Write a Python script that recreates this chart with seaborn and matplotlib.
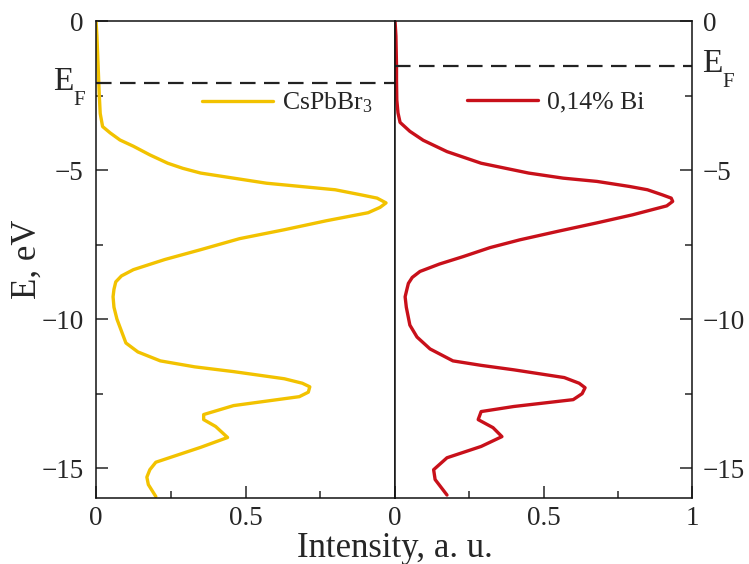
import matplotlib
matplotlib.use("Agg")
import matplotlib.pyplot as plt
import seaborn as sns
import pandas as pd
from matplotlib.ticker import MultipleLocator, FixedLocator

# Density of states: energy (eV) vs. normalised intensity
energy_cspbbr3 = [0, -0.5, -1.0, -1.5, -2.0, -2.5, -3.1, -3.54, -3.75, -3.99, -4.2, -4.49,
                  -4.77, -4.94, -5.1, -5.27, -5.44, -5.55, -5.66, -5.83, -5.94, -6.1, -6.25,
                  -6.43, -6.7, -7.0, -7.3, -7.67, -8.0, -8.34, -8.55, -8.75, -9.0, -9.25,
                  -9.6, -10.0, -10.4, -10.8, -11.1, -11.4, -11.6, -11.76, -12.0, -12.15,
                  -12.27, -12.45, -12.6, -12.9, -13.2, -13.37, -13.6, -13.97, -14.3, -14.8,
                  -15.05, -15.3, -15.55, -15.95]
intensity_cspbbr3 = [0.0, 0.003, 0.005, 0.007, 0.009, 0.011, 0.014, 0.022, 0.047, 0.08,
                     0.125, 0.18, 0.24, 0.29, 0.35, 0.46, 0.57, 0.685, 0.80, 0.886, 0.94,
                     0.97, 0.95, 0.91, 0.77, 0.63, 0.48, 0.35, 0.23, 0.125, 0.085, 0.066,
                     0.06, 0.057, 0.06, 0.07, 0.085, 0.10, 0.14, 0.215, 0.33, 0.46, 0.63,
                     0.69, 0.715, 0.71, 0.68, 0.46, 0.36, 0.36, 0.40, 0.44, 0.35, 0.20,
                     0.18, 0.17, 0.175, 0.20]

energy_bi = [0, -0.5, -1.0, -1.5, -2.0, -2.65, -3.08, -3.4, -3.7, -4.0, -4.38, -4.77, -5.1,
             -5.27, -5.38, -5.55, -5.66, -5.83, -5.94, -6.05, -6.2, -6.5, -6.77, -7.05,
             -7.34, -7.6, -7.9, -8.15, -8.4, -8.6, -8.8, -9.0, -9.25, -9.6, -9.9, -10.2,
             -10.6, -11.0, -11.4, -11.55, -11.7, -11.96, -12.15, -12.3, -12.5, -12.7,
             -12.93, -13.1, -13.37, -13.64, -13.94, -14.27, -14.65, -15.05, -15.38, -15.9]
intensity_bi = [0.0, 0.003, 0.004, 0.005, 0.005, 0.006, 0.01, 0.017, 0.05, 0.095, 0.175,
                0.29, 0.45, 0.566, 0.68, 0.79, 0.85, 0.90, 0.93, 0.935, 0.915, 0.80, 0.68,
                0.55, 0.42, 0.32, 0.23, 0.15, 0.084, 0.058, 0.045, 0.04, 0.034, 0.038,
                0.044, 0.05, 0.074, 0.118, 0.195, 0.29, 0.40, 0.57, 0.62, 0.64, 0.63, 0.60,
                0.40, 0.29, 0.28, 0.33, 0.36, 0.29, 0.175, 0.13, 0.135, 0.175]

fermi_levels = [-2.07, -1.5]
series_labels = ["CsPbBr$_3$", "0,14% Bi"]
series_colors = ["#F2C200", "#C8101A"]

sns.set_style("ticks")
plt.rcParams["font.family"] = ["Liberation Serif", "DejaVu Serif"]
plt.rcParams["mathtext.fontset"] = "custom"
plt.rcParams["mathtext.rm"] = "Liberation Serif"
plt.rcParams["mathtext.it"] = "Liberation Serif:italic"
plt.rcParams["axes.unicode_minus"] = True

W, H = 749, 564
fig = plt.figure(figsize=(W / 100, H / 100), dpi=100)
ax_l = fig.add_axes([0.1282, 0.117, 0.3992, 0.8457])
ax_r = fig.add_axes([0.5274, 0.117, 0.3965, 0.8457])

frames = [
    pd.DataFrame({"E": energy_cspbbr3, "I": intensity_cspbbr3}),
    pd.DataFrame({"E": energy_bi, "I": intensity_bi}),
]

for ax, df, lab, col, ef in zip([ax_l, ax_r], frames, series_labels, series_colors, fermi_levels):
    sns.lineplot(data=df, x="I", y="E", orient="y", sort=False, estimator=None,
                 color=col, lw=2.4, label=lab, ax=ax,
                 solid_joinstyle="round", solid_capstyle="round")
    ax.axhline(ef, color="#222222", lw=1.6, linestyle=(0, (7, 3.8)))
    ax.set_xlim(0, 1)
    ax.set_ylim(-16, 0)
    ax.set_xlabel("")
    ax.set_ylabel("")
    ax.xaxis.set_major_locator(MultipleLocator(0.5))
    ax.xaxis.set_minor_locator(MultipleLocator(0.25))
    ax.yaxis.set_major_locator(MultipleLocator(5))
    ax.yaxis.set_minor_locator(MultipleLocator(2.5))
    ax.tick_params(which="both", direction="in", labelsize=19.5, width=1.1)
    ax.tick_params(which="major", length=8.5)
    ax.tick_params(which="minor", length=5)
    ax.tick_params(axis="x", pad=6)
    for s in ax.spines.values():
        s.set_linewidth(1.1)
        s.set_color("#111111")

# left panel: energy ticks on the left, no "1" on the shared edge
ax_l.tick_params(axis="y", which="both", left=True, right=False, labelleft=True,
                 labelright=False, pad=9)
ax_l.xaxis.set_major_locator(FixedLocator([0, 0.5]))
ax_l.set_xticklabels(["0", "0.5"])
ax_l.set_yticks([0, -5, -10, -15])
ax_l.set_yticklabels(["0", "\u22125", "\u221210", "\u221215"])

# right panel: energy ticks on the right
ax_r.tick_params(axis="y", which="both", left=False, right=True, labelleft=False,
                 labelright=True, pad=8)
ax_r.set_xticks([0, 0.5, 1])
ax_r.set_xticklabels(["0", "0.5", "1"])
ax_r.set_yticks([0, -5, -10, -15])
ax_r.set_yticklabels(["0", "\u22125", "\u221210", "\u221215"])

leg_kw = dict(frameon=False, fontsize=18.5, loc="center left", borderpad=0,
              borderaxespad=0, handlelength=2.75, handletextpad=0.35)
ax_l.legend(bbox_to_anchor=(0.355, 0.828), **leg_kw)
ax_r.legend(bbox_to_anchor=(0.242, 0.830), **leg_kw)
for ax in (ax_l, ax_r):
    for ln in ax.get_legend().get_lines():
        ln.set_linewidth(2.4)


def fermi_label(x_px, base_px):
    """Draw 'E' with a lowered subscript 'F' at pixel position (x, baseline)."""
    fig.text(x_px / W, 1 - base_px / H, "E", fontsize=24, ha="left", va="baseline")
    fig.text((x_px + 20) / W, 1 - (base_px + 15) / H, "F", fontsize=15,
             ha="left", va="baseline")


fermi_label(53, 90)
fermi_label(702, 72)

fig.text(0.5274, 0.012, "Intensity, a. u.", fontsize=25, ha="center", va="baseline")
fig.text(0.036, 0.54, "E, eV", fontsize=25, rotation=90, ha="center", va="center")

fig.savefig("out.png", dpi=100)
